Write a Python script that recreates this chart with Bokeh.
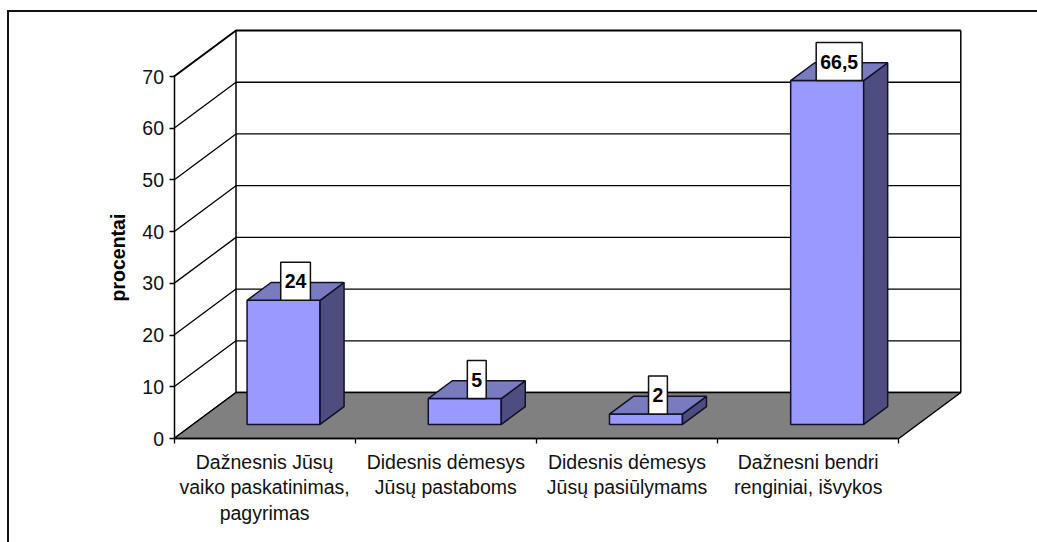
from bokeh.plotting import figure
from bokeh.models import LinearAxis, FixedTicker, Range1d, Label
from bokeh.embed import file_html
from bokeh.resources import INLINE

categories = ["Dažnesnis Jūsų\nvaiko paskatinimas,\npagyrimas",
              "Didesnis dėmesys\nJūsų pastaboms",
              "Didesnis dėmesys\nJūsų pasiūlymams",
              "Dažnesni bendri\nrenginiai, išvykos"]
values = [24, 5, 2, 66.5]
value_labels = ["24", "5", "2", "66,5"]
y_ticks = [0, 10, 20, 30, 40, 50, 60, 70]
y_title = "procentai"

FONT = "Liberation Sans"
FS = "19.5px"
PX_X = 181.2   # pixels per category
PX_Y = 5.171   # pixels per percent
ORIGIN_X, ORIGIN_Y = 173.5, 438.0
DX, DY = 62 / PX_X, 46 / PX_Y   # full depth of the 3D box in data units
BAR_W = 73 / PX_X
BAR_D0, BAR_D1 = 0.306, 0.693   # bar depth span

W, H = 1037, 542
XMIN, XMAX = (0 - ORIGIN_X) / PX_X, (W - ORIGIN_X) / PX_X
YMIN, YMAX = (ORIGIN_Y - H) / PX_Y, ORIGIN_Y / PX_Y
p = figure(width=W, height=H, output_backend="svg", toolbar_location=None,
           x_axis_type=None, y_axis_type=None, min_border=0,
           x_range=Range1d(XMIN, XMAX), y_range=Range1d(YMIN, YMAX))
p.grid.visible = False
p.outline_line_color = None
p.background_fill_color = "white"


def proj(cat, val, depth):
    return cat + depth * DX, val + depth * DY


n = len(categories)
ymax = max(y_ticks)

# outer border (left and top edges of the chart area)
bx = (7.5 - ORIGIN_X) / PX_X
by = (ORIGIN_Y - 10.5) / PX_Y
p.line([bx, bx, XMAX], [YMIN, by, by], line_color="#111111", line_width=2,
       line_join="miter")

# walls
for t in y_ticks:
    a, b, c = proj(0, t, 0), proj(0, t, 1), proj(n, t, 1)
    p.line([a[0], b[0], c[0]], [a[1], b[1], c[1]], line_color="black",
           line_width=2 if t == ymax else 1.3)
for cat in (0, n):
    a, b = proj(cat, 0, 1), proj(cat, ymax, 1)
    p.line([a[0], b[0]], [a[1], b[1]], line_color="black", line_width=1.5)

# floor
corners = [proj(0, 0, 0), proj(0, 0, 1), proj(n, 0, 1), proj(n, 0, 0)]
p.patch([c[0] for c in corners], [c[1] for c in corners], fill_color="#808080",
        line_color="black", line_width=1.5)

# bars
for i, v in enumerate(values):
    x0 = i + 0.5 - BAR_W / 2
    x1 = i + 0.5 + BAR_W / 2
    front = [proj(x0, 0, BAR_D0), proj(x1, 0, BAR_D0), proj(x1, v, BAR_D0), proj(x0, v, BAR_D0)]
    side = [proj(x1, 0, BAR_D0), proj(x1, 0, BAR_D1), proj(x1, v, BAR_D1), proj(x1, v, BAR_D0)]
    top = [proj(x0, v, BAR_D0), proj(x1, v, BAR_D0), proj(x1, v, BAR_D1), proj(x0, v, BAR_D1)]
    for poly, col in ((front, "#9999FF"), (side, "#4D4D80"), (top, "#7A7ABF")):
        p.patch([c[0] for c in poly], [c[1] for c in poly], fill_color=col,
                line_color="#10102a", line_width=1.5)
    lx, ly = proj(i + 0.5, v, BAR_D0)
    p.add_layout(Label(x=lx + (BAR_D1 - BAR_D0) * DX / 2, y=ly, text=value_labels[i],
                       text_align="center", text_baseline="bottom",
                       text_font=FONT, text_font_size=FS, text_font_style="bold",
                       text_color="black", background_fill_color="white",
                       border_line_color="#111111", border_line_width=1.5,
                       padding=(4, 12)))

# axes
yaxis = LinearAxis(ticker=FixedTicker(ticks=y_ticks), fixed_location=0, bounds=(0, ymax),
                   major_label_text_font=FONT, major_label_text_font_size=FS,
                   major_label_text_color="#111111", major_label_standoff=5,
                   major_tick_in=0, major_tick_out=5, minor_tick_line_color=None,
                   axis_line_color="black", axis_line_width=1.5,
                   major_tick_line_color="black", major_tick_line_width=1.3,
                   axis_label=y_title, axis_label_text_font=FONT,
                   axis_label_text_font_size=FS, axis_label_text_font_style="bold",
                   axis_label_text_color="black", axis_label_standoff=11)
p.add_layout(yaxis, "left")

centres = [i + 0.5 for i in range(n)]
xaxis = LinearAxis(ticker=FixedTicker(ticks=centres, minor_ticks=list(range(n + 1))),
                   fixed_location=0, bounds=(0, n),
                   major_label_overrides=dict(zip(centres, categories)),
                   major_label_text_font=FONT, major_label_text_font_size=FS,
                   major_label_text_color="#111111", major_label_standoff=7,
                   major_label_text_line_height=1.17,
                   major_tick_in=0, major_tick_out=0, minor_tick_in=0, minor_tick_out=5,
                   minor_tick_line_color="black", minor_tick_line_width=1.3,
                   axis_line_color="black", axis_line_width=1.5)
p.add_layout(xaxis, "below")

open("out.html", "w").write(file_html(p, INLINE))
